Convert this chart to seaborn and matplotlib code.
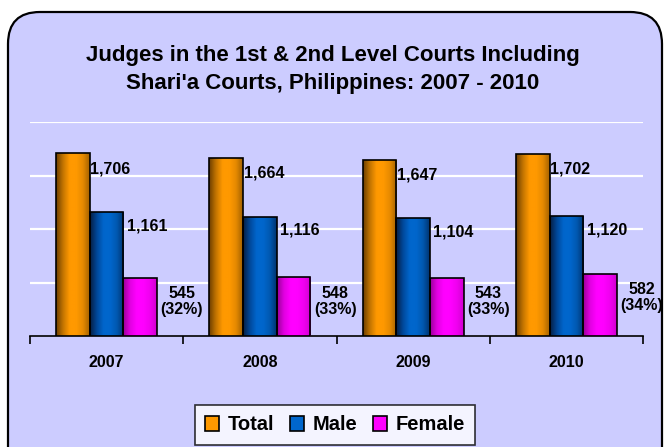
import numpy as np
import pandas as pd
import matplotlib
matplotlib.use('Agg')
import matplotlib.pyplot as plt
import seaborn as sns
from matplotlib.colors import LinearSegmentedColormap
from matplotlib.patches import FancyBboxPatch, Patch

# data
years = ['2007', '2008', '2009', '2010']
series = ['Total', 'Male', 'Female']
total = [1706, 1664, 1647, 1702]
male = [1161, 1116, 1104, 1120]
female = [545, 548, 543, 582]
female_share = ['32%', '33%', '33%', '34%']

colors = {'Total': '#FF9900', 'Male': '#0066CC', 'Female': '#FF00FF'}
shades = {
    'Total': ['#6e3f00', '#c27400', '#ff9900', '#ff9900', '#e68a00', '#a56200'],
    'Male': ['#061f45', '#00489a', '#0066cc', '#0066cc', '#0058b0', '#003470'],
    'Female': ['#9a009a', '#e000e0', '#ff00ff', '#ff00ff', '#f000f0', '#d000d0'],
}

df = pd.DataFrame({
    'year': years * 3,
    'series': ['Total'] * 4 + ['Male'] * 4 + ['Female'] * 4,
    'value': total + male + female,
})

sns.set_style('white')
plt.rcParams['font.family'] = ['Liberation Sans', 'DejaVu Sans']
plt.rcParams['text.color'] = 'black'
plt.rcParams['xtick.color'] = 'black'

fig = plt.figure(figsize=(6.66, 4.47), dpi=100)
fig.patch.set_facecolor('white')

# rounded lavender panel behind everything (inches)
panel = FancyBboxPatch((0.08, -0.6), 6.54, 4.47 - 0.12 + 0.6,
                       boxstyle='round,pad=0,rounding_size=0.32',
                       transform=fig.dpi_scale_trans, facecolor='#CCCCFF',
                       edgecolor='black', linewidth=1.6, zorder=-5)
fig.patches.append(panel)

ax = fig.add_axes([30 / 666, (447 - 336) / 447, (643 - 30) / 666, (336 - 122) / 447])
ax.set_facecolor('none')

sns.barplot(data=df, x='year', y='value', hue='series', hue_order=series,
            palette=colors, width=0.66, edgecolor='black', linewidth=1.2,
            legend=False, ax=ax, zorder=3)

# cylinder-like horizontal shading on each bar
grad = np.linspace(0, 1, 64).reshape(1, -1)
for i, p in enumerate(ax.patches):
    s = series[i // 4]
    cmap = LinearSegmentedColormap.from_list(s, shades[s])
    x0, y0 = p.get_x(), p.get_y()
    w, h = p.get_width(), p.get_height()
    im = ax.imshow(grad, extent=[x0, x0 + w, y0, y0 + h], aspect='auto',
                   cmap=cmap, zorder=2.9, interpolation='bilinear')
    im.set_clip_path(p)
    p.set_facecolor('none')

ax.set_xlim(-0.5, 3.5)
ax.set_ylim(0, 2000)

# white gridlines
for yv in [500, 1000, 1500, 2000]:
    ax.axhline(yv, color='white', linewidth=1.6, zorder=1)

for sp in ['top', 'right', 'left']:
    ax.spines[sp].set_visible(False)
ax.spines['bottom'].set_color('black')
ax.spines['bottom'].set_linewidth(1.2)
ax.set_yticks([])
ax.set_xticks(range(4))
ax.set_xticklabels(years, fontsize=11.5, fontweight='bold')
ax.set_xticks([-0.5, 0.5, 1.5, 2.5, 3.5], minor=True)
ax.tick_params(axis='x', which='major', length=0, pad=14)
ax.tick_params(axis='x', which='minor', length=6, width=1.2, color='black',
               direction='out', bottom=True)
ax.set_xlabel('')
ax.set_ylabel('')

# value labels
bars = ax.patches
for i in range(4):
    pt, pm, pf = bars[i], bars[4 + i], bars[8 + i]
    ax.annotate(f'{total[i]:,}', (pt.get_x() + pt.get_width(), total[i]),
                xytext=(0.5, -11), textcoords='offset points', ha='left',
                va='center', fontsize=11.5, fontweight='bold', zorder=5)
    ax.annotate(f'{male[i]:,}', (pm.get_x() + pm.get_width(), male[i]),
                xytext=(2.5, -10), textcoords='offset points', ha='left',
                va='center', fontsize=11.5, fontweight='bold', zorder=5)
    ax.annotate(f'{female[i]}\n({female_share[i]})',
                (pf.get_x() + pf.get_width(), female[i]),
                xytext=(2.5, -6), textcoords='offset points', ha='left',
                va='top', multialignment='center', fontsize=11.5,
                fontweight='bold', linespacing=1.1, zorder=5,
                annotation_clip=False)

fig.text(0.5, 1 - 55 / 447, "Judges in the 1st & 2nd Level Courts Including",
         ha='center', va='center', fontsize=16, fontweight='bold')
fig.text(0.5, 1 - 83 / 447, "Shari'a Courts, Philippines: 2007 - 2010",
         ha='center', va='center', fontsize=16, fontweight='bold')

handles = [Patch(facecolor=colors[s], edgecolor='black', linewidth=1.2, label=s)
           for s in series]
leg = fig.legend(handles=handles, loc='center', bbox_to_anchor=(335 / 666, 1 - 425 / 447),
                 ncol=3, frameon=True, fancybox=False, handlelength=0.7,
                 handleheight=0.7, handletextpad=0.4, columnspacing=0.8,
                 borderpad=0.5, prop={'weight': 'bold', 'size': 14.5})
leg.get_frame().set_edgecolor('black')
leg.get_frame().set_linewidth(1.2)
leg.get_frame().set_facecolor('white')

fig.savefig('out.png', dpi=100)
